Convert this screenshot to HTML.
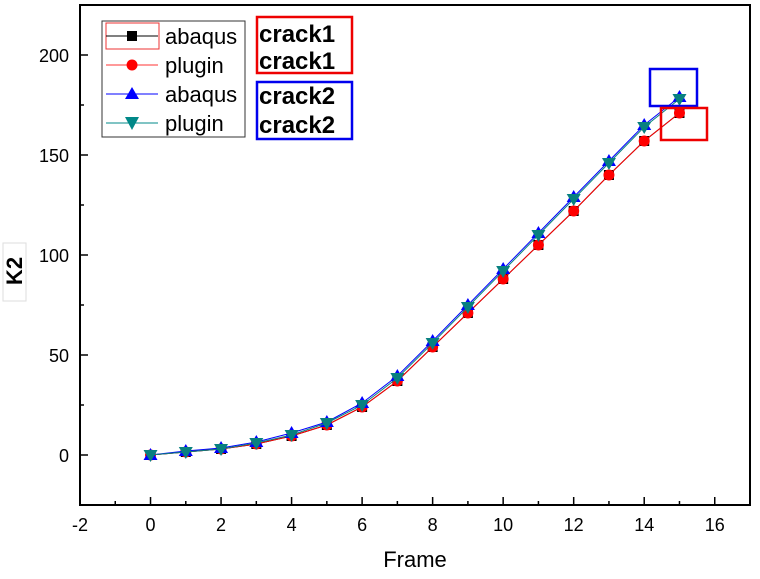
<!DOCTYPE html>
<html><head><meta charset="utf-8"><style>
body{margin:0;background:#fff;width:760px;height:574px;overflow:hidden}
svg text{font-family:"Liberation Sans",Arial,sans-serif}
</style></head><body>
<svg id="chart" width="760" height="574" xmlns="http://www.w3.org/2000/svg">
<g id="axes"></g><g id="series"></g>
<rect x="3" y="243" width="23" height="58" fill="#fff" stroke="#ddd"/>
<text transform="translate(22,271) rotate(-90)" text-anchor="middle" font-size="22" font-weight="bold">K2</text>
<text x="415" y="567" text-anchor="middle" font-size="22">Frame</text>
<g>
<rect x="102" y="21" width="143" height="116" fill="#fff" stroke="#333" stroke-width="1"/>
<g><rect x="106" y="23" width="53" height="26" fill="none" stroke="#e33"/><line x1="106" y1="36" x2="158" y2="36" stroke="#000"/><rect x="127" y="31" width="10" height="10" fill="#000"/><text x="165" y="44" font-size="22">abaqus</text></g>
<g><line x1="106" y1="65" x2="158" y2="65" stroke="#f33"/><circle cx="132" cy="65" r="5.5" fill="#f00"/><text x="165" y="73" font-size="22">plugin</text></g>
<g><line x1="106" y1="94" x2="158" y2="94" stroke="#00f"/><polygon points="132,87 139,99 125,99" fill="#00f"/><text x="165" y="102" font-size="22">abaqus</text></g>
<g><line x1="106" y1="123" x2="158" y2="123" stroke="#088"/><polygon points="125,117 139,117 132,130" fill="#088"/><text x="165" y="131" font-size="22">plugin</text></g>
</g>
<g><rect x="257" y="17" width="95" height="56" fill="none" stroke="#e00" stroke-width="2.5"/><text x="259" y="42" font-size="24" font-weight="bold">crack1</text><text x="259" y="69" font-size="24" font-weight="bold">crack1</text></g>
<g><rect x="257" y="82" width="95" height="57" fill="none" stroke="#00e" stroke-width="2.5"/><text x="259" y="104" font-size="24" font-weight="bold">crack2</text><text x="259" y="133" font-size="24" font-weight="bold">crack2</text></g>
<rect x="650" y="69" width="47" height="37" fill="none" stroke="#00e" stroke-width="2.5"/>
<rect x="661" y="108" width="46" height="32" fill="none" stroke="#e00" stroke-width="2.5"/>
</svg>
<script>
const frames=[0,1,2,3,4,5,6,7,8,9,10,11,12,13,14,15];
const abaqusCrack1=[0,1.5,3,5.5,9.5,15,24,37,54,71,88,105,122,140,157,171];
const pluginCrack1=[0,1.5,3,5.5,9.5,15,24,37,54,71,88,105,122,140,157,171];
const abaqusCrack2=[0,2,3.5,6.5,11,16.5,26,39.5,57,75,93,111,129,147,165,179];
const pluginCrack2=[0,1.5,3,6,10,16,25,38.5,56,74,92,110,128,146,164,178];
const xTicks=[-2,0,2,4,6,8,10,12,14,16];
const yTicks=[0,50,100,150,200];
const NS="http://www.w3.org/2000/svg";
const L=80,R=750,T=5,B=505,xmin=-2,xmax=17,ymin=-25,ymax=225;
const X=v=>L+(v-xmin)/(xmax-xmin)*(R-L);
const Y=v=>B-(v-ymin)/(ymax-ymin)*(B-T);
function mk(tag,attrs,parent){const e=document.createElementNS(NS,tag);for(const k in attrs)e.setAttribute(k,attrs[k]);parent.appendChild(e);return e;}
const axes=document.getElementById('axes');
const frame=mk('rect',{x:L,y:T,width:R-L,height:B-T,fill:'none',stroke:'#000','stroke-width':2},axes);


for(let v=-2;v<=17;v++){const major=v%2===0;
 const t=mk('line',{x1:X(v),x2:X(v),y1:B,y2:B-(major?8:4),stroke:'#000','stroke-width':1.5},axes);
 
 }
xTicks.forEach(v=>{const t=mk('text',{x:X(v),y:B+26,'text-anchor':'middle','font-size':18},axes);t.textContent=v;
 
 });
for(let v=-25;v<=225;v+=25){const major=v%50===0;
 const t=mk('line',{x1:L,x2:L+(major?8:4),y1:Y(v),y2:Y(v),stroke:'#000','stroke-width':1.5},axes);
 
 }
yTicks.forEach(v=>{const t=mk('text',{x:L-11,y:Y(v)+7,'text-anchor':'end','font-size':18},axes);t.textContent=v;
 
 });
const sg=document.getElementById('series');
function series(vals,color,marker,name){
 const g=mk('g',{},sg);
 
 
 const pl=mk('polyline',{points:frames.map((f,i)=>X(f)+','+Y(vals[i])).join(' '),fill:'none',stroke:color,'stroke-width':1},g);
 
 
 frames.forEach((f,i)=>{const x=X(f),y=Y(vals[i]);let m;
  if(marker==='sq')m=mk('rect',{x:x-5,y:y-5,width:10,height:10,fill:color},g);
  else if(marker==='ci')m=mk('circle',{cx:x,cy:y,r:5.5,fill:color},g);
  else if(marker==='up')m=mk('polygon',{points:`${x},${y-7} ${x+7},${y+5} ${x-7},${y+5}`,fill:color},g);
  else m=mk('polygon',{points:`${x-7},${y-5} ${x+7},${y-5} ${x},${y+7}`,fill:color},g);
  
  });
}
series(abaqusCrack1,'#000','sq','abaqus-crack1');
series(pluginCrack1,'#f00','ci','plugin-crack1');
series(abaqusCrack2,'#00f','up','abaqus-crack2');
series(pluginCrack2,'#088080','dn','plugin-crack2');
</script>
</body></html>
